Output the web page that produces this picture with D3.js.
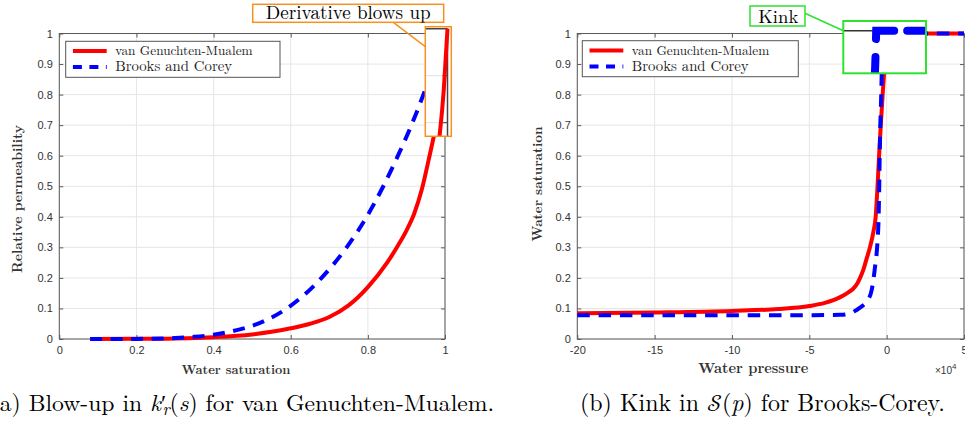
<!DOCTYPE html>
<html><head><meta charset="utf-8">
<script src="https://cdn.jsdelivr.net/npm/d3@7"></script>
<style>body{margin:0;background:#fff}svg{display:block}</style>
</head><body>
<svg id="c" width="965" height="433"></svg>
<script>
// ---------- data ----------
// (a) relative permeability vs water saturation
const vgS  = [0.08, 0.2, 0.3, 0.4, 0.5, 0.6, 0.65, 0.7, 0.75, 0.8, 0.85, 0.88, 0.9, 0.92, 0.94, 0.96, 0.975, 0.985, 0.993, 1.0];
const vgKr = [0, 0.0005, 0.002, 0.006, 0.015, 0.035, 0.05, 0.072, 0.11, 0.17, 0.25, 0.31, 0.355, 0.41, 0.49, 0.6, 0.69, 0.77, 0.87, 1.0];
const bcS  = [0.08, 0.2, 0.3, 0.35, 0.4, 0.45, 0.5, 0.55, 0.59, 0.68, 0.745, 0.797, 0.84, 0.878, 0.913, 0.944, 0.972, 1.0];
const bcKr = [0, 0.0003, 0.003, 0.007, 0.014, 0.026, 0.043, 0.07, 0.1, 0.2, 0.3, 0.4, 0.5, 0.6, 0.7, 0.8, 0.9, 1.0];
// (b) water saturation vs water pressure (x 10^4)
const vgP   = [-20, -15, -10, -7, -5, -4, -3, -2.5, -2.2, -1.9, -1.72, -1.5, -1.29, -1.08, -0.86, -0.71, -0.59, -0.49, -0.38, -0.26, -0.15, -0.06, 0, 5];
const vgSat = [0.084, 0.087, 0.092, 0.098, 0.108, 0.118, 0.137, 0.152, 0.163, 0.182, 0.2, 0.228, 0.264, 0.3, 0.35, 0.4, 0.5, 0.6, 0.7, 0.8, 0.88, 0.95, 1.0, 1.0];
const bcP   = [-20, -10, -5, -3, -2.6, -2.2, -1.94, -1.6, -1.29, -0.97, -0.75, -0.6, -0.52, -0.48, -0.45, -0.41, -0.35, -0.31, -0.28, 5];
const bcSat = [0.078, 0.078, 0.078, 0.079, 0.081, 0.087, 0.095, 0.107, 0.122, 0.16, 0.237, 0.313, 0.4, 0.5, 0.6, 0.7, 0.8, 0.9, 1.0, 1.0];

const yTicks  = [0, 0.1, 0.2, 0.3, 0.4, 0.5, 0.6, 0.7, 0.8, 0.9, 1];
const xTicksA = [0, 0.2, 0.4, 0.6, 0.8, 1];
const xTicksB = [-20, -15, -10, -5, 0, 5];
const seriesNames = ["van Genuchten-Mualem", "Brooks and Corey"];
const xLabelA = "Water saturation", yLabelA = "Relative permeability";
const xLabelB = "Water pressure",   yLabelB = "Water saturation";
const calloutA = "Derivative blows up", calloutB = "Kink";

// ---------- setup ----------
const svg = d3.select("#c");
const SANS = "'Liberation Sans', Arial, Helvetica, sans-serif";
const SERIF = "'Latin Modern Roman', 'Liberation Serif', serif";
const RED = "#ff0000", BLUE = "#0000ff", ORANGE = "#f7901e", GREEN = "#2ee22e";
const AX = "#5a5a5a", GRID = "#e6e6e6";
const zipA = (a, b) => a.map((v, i) => [v, b[i]]);

// scale the font size so that the text spans the target width
function fitSize(sel, target) {
  const fs = parseFloat(sel.style("font-size"));
  const w = sel.node().getComputedTextLength();
  sel.style("font-size", (fs * target / w).toFixed(2) + "px");
}

// is Latin Modern Math available (for the calligraphic S)?
const hasLMMath = (() => {
  const a = svg.append("text").style("font-family", "'Latin Modern Math', 'Liberation Serif'").style("font-size", "20px").text("Derivative");
  const b = svg.append("text").style("font-family", "'Liberation Serif'").style("font-size", "20px").text("Derivative");
  const r = Math.abs(a.node().getComputedTextLength() - b.node().getComputedTextLength()) > 0.5;
  a.remove(); b.remove();
  return r;
})();

function panel(x, y, xTicks) {
  const g = svg.append("g");
  const [x0, x1] = x.range();
  g.selectAll(null).data(xTicks).join("line")
    .attr("x1", d => x(d)).attr("x2", d => x(d)).attr("y1", y(0)).attr("y2", y(1))
    .attr("stroke", GRID);
  g.selectAll(null).data(yTicks).join("line")
    .attr("y1", d => y(d)).attr("y2", d => y(d)).attr("x1", x0).attr("x2", x1)
    .attr("stroke", GRID);
  const fmt = d => String(+(+d).toFixed(2));
  const ax = (axis, tr) => {
    const a = g.append("g").attr("transform", tr).call(axis);
    a.select(".domain").remove();
    a.selectAll("line").attr("stroke", AX);
    a.selectAll("text").attr("fill", "#333").style("font-family", SANS).style("font-size", "11px");
    return a;
  };
  ax(d3.axisLeft(y).tickValues(yTicks).tickSize(-4).tickPadding(6.5).tickFormat(fmt), `translate(${x0},0)`);
  ax(d3.axisRight(y).tickValues(yTicks).tickSize(-4).tickFormat(""), `translate(${x1},0)`);
  ax(d3.axisBottom(x).tickValues(xTicks).tickSize(-4).tickPadding(7).tickFormat(fmt), `translate(0,${y(0)})`);
  ax(d3.axisTop(x).tickValues(xTicks).tickSize(-4).tickFormat(""), `translate(0,${y(1)})`);
  g.append("rect").attr("x", x0).attr("y", y(1)).attr("width", x1 - x0).attr("height", y(0) - y(1))
    .attr("fill", "none").attr("stroke", AX).attr("stroke-width", 1);
  return g;
}

function legend(g, bx, by, bw, bh) {
  g.append("rect").attr("x", bx).attr("y", by).attr("width", bw).attr("height", bh)
    .attr("fill", "#fff").attr("stroke", "#555").attr("stroke-width", 1);
  const rows = [{c: RED, dash: null}, {c: BLUE, dash: "9,7.5"}];
  rows.forEach((r, i) => {
    const yy = by + 9.8 + i * 16;
    const l = g.append("line").attr("x1", bx + 7.2).attr("x2", bx + 41).attr("y1", yy).attr("y2", yy)
      .attr("stroke", r.c).attr("stroke-width", 4);
    if (r.dash) l.attr("stroke-dasharray", r.dash);
    const t = g.append("text").attr("x", bx + 49.5).attr("y", yy + 4.3)
      .style("font-family", SERIF).style("font-size", "14px").attr("fill", "#222").text(seriesNames[i]);
    fitSize(t, i === 0 ? 137.5 : 117);
  });
}

function label(g, txt, cx, cy, rot, target) {
  const t = g.append("text").attr("text-anchor", "middle")
    .attr("transform", `translate(${cx},${cy}) rotate(${rot})`)
    .attr("dy", "0.36em")
    .style("font-family", SERIF).style("font-size", "14px").style("font-weight", "bold")
    .attr("fill", "#333").text(txt);
  fitSize(t, target);
  return t;
}

// ---------- panel (a) ----------
const xA = d3.scaleLinear().domain([0, 1]).range([59.3, 445]);
const yA = d3.scaleLinear().domain([0, 1]).range([339, 33.5]);
const gA = panel(xA, yA, xTicksA);
const lineA = d3.line().x(d => xA(d[0])).y(d => yA(d[1])).curve(d3.curveMonotoneX);
gA.append("path").attr("d", lineA(zipA(vgS, vgKr))).attr("fill", "none").attr("stroke", RED).attr("stroke-width", 4);
gA.append("path").attr("d", lineA(zipA(bcS, bcKr))).attr("fill", "none").attr("stroke", BLUE).attr("stroke-width", 4)
  .attr("stroke-dasharray", "12,8.5");
legend(gA, 65.7, 41.3, 214.3, 36);
label(gA, xLabelA, 236, 369, 0, 109);
label(gA, yLabelA, 17.5, 199, -90, 148);

// inset (magnified view of the blow-up)
const inA = {x: 425.3, y: 26.7, w: 26, h: 109.6};
const xiA = d3.scaleLinear().domain([0.985, 1]).range([439.5, 447.5]);
const yiA = d3.scaleLinear().domain([0.8, 1]).range([122.7, 28.7]);
svg.append("defs").append("clipPath").attr("id", "clipA").append("rect")
  .attr("x", inA.x).attr("y", inA.y).attr("width", inA.w).attr("height", inA.h);
const gi = svg.append("g");
gi.append("rect").attr("x", inA.x).attr("y", inA.y).attr("width", inA.w).attr("height", inA.h).attr("fill", "#fff");
const gic = gi.append("g").attr("clip-path", "url(#clipA)");
[0.9, 0.8].forEach(v => {
  gic.append("line").attr("x1", inA.x).attr("x2", xiA(1)).attr("y1", yiA(v)).attr("y2", yiA(v)).attr("stroke", GRID).attr("stroke-width", 1.3);
  gic.append("line").attr("x1", xiA(1) - 5).attr("x2", xiA(1)).attr("y1", yiA(v)).attr("y2", yiA(v)).attr("stroke", AX).attr("stroke-width", 1.3);
});
gic.append("line").attr("x1", inA.x).attr("x2", xiA(1)).attr("y1", yiA(1)).attr("y2", yiA(1)).attr("stroke", "#444").attr("stroke-width", 1.5);
gic.append("line").attr("x1", xiA(1)).attr("x2", xiA(1)).attr("y1", yiA(1)).attr("y2", inA.y + inA.h).attr("stroke", "#444").attr("stroke-width", 1.5);
const lineIA = d3.line().x(d => xiA(d[0])).y(d => yiA(d[1])).curve(d3.curveMonotoneX);
gic.append("path").attr("d", lineIA(zipA(vgS, vgKr).filter(d => d[0] >= 0.96)))
  .attr("fill", "none").attr("stroke", RED).attr("stroke-width", 4);
gi.append("rect").attr("x", inA.x).attr("y", inA.y).attr("width", inA.w).attr("height", inA.h)
  .attr("fill", "none").attr("stroke", ORANGE).attr("stroke-width", 1.5);

// callout (a)
svg.append("line").attr("x1", 393.3).attr("y1", 22.3).attr("x2", inA.x).attr("y2", 46.7).attr("stroke", ORANGE).attr("stroke-width", 1.5);
svg.append("rect").attr("x", 252.7).attr("y", 4.3).attr("width", 191).attr("height", 18)
  .attr("fill", "#fff").attr("stroke", ORANGE).attr("stroke-width", 1.5);
const tA = svg.append("text").attr("x", 348.2).attr("y", 19.3).attr("text-anchor", "middle")
  .style("font-family", SERIF).style("font-size", "19px").attr("fill", "#000").text(calloutA);
fitSize(tA, 165);

// ---------- panel (b) ----------
const xB = d3.scaleLinear().domain([-20, 5]).range([577.3, 964]);
const yB = d3.scaleLinear().domain([0, 1]).range([339, 33.5]);
const gB = panel(xB, yB, xTicksB);
const lineB = d3.line().x(d => xB(d[0])).y(d => yB(d[1])).curve(d3.curveMonotoneX);
gB.append("path").attr("d", lineB(zipA(vgP, vgSat))).attr("fill", "none").attr("stroke", RED).attr("stroke-width", 4);
gB.append("path").attr("d", lineB(zipA(bcP, bcSat))).attr("fill", "none").attr("stroke", BLUE).attr("stroke-width", 4)
  .attr("stroke-dasharray", "12.5,8.8");
legend(gB, 582.3, 40.7, 216, 36);
label(gB, xLabelB, 753.3, 368, 0, 110);
label(gB, yLabelB, 537, 184, -90, 115);
const ex = gB.append("text").attr("x", 935).attr("y", 373.5)
  .style("font-family", SANS).style("font-size", "10px").attr("fill", "#333");
ex.append("tspan").text("\u00d710");
ex.append("tspan").attr("dy", -5).style("font-size", "8px").text("4");

// inset (magnified view of the kink)
const inB = {x: 843.3, y: 21, w: 82.7, h: 52.3};
const xiB = d3.scaleLinear().domain([-0.28, 1]).range([876.2, 914.6]);
const yiB = d3.scaleLinear().domain([0.8, 1]).range([95.3, 30.7]);
svg.select("defs").append("clipPath").attr("id", "clipB").append("rect")
  .attr("x", inB.x).attr("y", inB.y).attr("width", inB.w).attr("height", inB.h);
const gk = svg.append("g");
gk.append("rect").attr("x", inB.x).attr("y", inB.y).attr("width", inB.w).attr("height", inB.h).attr("fill", "#fff");
const gkc = gk.append("g").attr("clip-path", "url(#clipB)");
gkc.append("line").attr("x1", inB.x).attr("x2", xiB(-0.28)).attr("y1", yiB(1)).attr("y2", yiB(1))
  .attr("stroke", "#333").attr("stroke-width", 1.6);
const lineIB = d3.line().x(d => xiB(d[0])).y(d => yiB(d[1]));
const kp = gkc.append("path").attr("d", lineIB(zipA(bcP, bcSat).filter(d => d[1] >= 0.7)))
  .attr("fill", "none").attr("stroke", BLUE).attr("stroke-width", 8).attr("stroke-linecap", "round");
{
  const node = kp.node();
  let lo = 0, hi = node.getTotalLength();
  for (let k = 0; k < 40; k++) { const m = (lo + hi) / 2; if (node.getPointAtLength(m).y > 77) lo = m; else hi = m; }
  kp.attr("stroke-dasharray", `0,${lo.toFixed(2)},20,18,26.3,13,300,1000`);
}
gk.append("rect").attr("x", inB.x).attr("y", inB.y).attr("width", inB.w).attr("height", inB.h)
  .attr("fill", "none").attr("stroke", GREEN).attr("stroke-width", 2);

// callout (b)
svg.append("line").attr("x1", 805).attr("y1", 13.3).attr("x2", inB.x).attr("y2", 30.7).attr("stroke", GREEN).attr("stroke-width", 1.5);
svg.append("rect").attr("x", 750).attr("y", 6).attr("width", 55).attr("height", 20)
  .attr("fill", "#fff").attr("stroke", GREEN).attr("stroke-width", 1.5);
const tB = svg.append("text").attr("x", 778.3).attr("y", 23).attr("text-anchor", "middle")
  .style("font-family", SERIF).style("font-size", "19px").attr("fill", "#000").text(calloutB);
fitSize(tB, 40);

// ---------- captions ----------
function caption(x, y, parts, target) {
  const t = svg.append("text").attr("x", x).attr("y", y)
    .style("font-family", SERIF).style("font-size", "21px").attr("fill", "#000");
  parts.forEach(p => {
    const s = t.append("tspan").text(p.t);
    if (p.i) s.style("font-style", "italic");
    if (p.f) s.style("font-family", p.f);
    if (p.dy) s.attr("dy", p.dy);
    if (p.dx) s.attr("dx", p.dx);
    if (p.fs) s.style("font-size", p.fs);
  });
  fitSize(t, target);
}
caption(-9.5, 411, [
  {t: "(a) Blow-up in "}, {t: "k", i: true}, {t: "\u2032"},
  {t: "r", i: true, dy: "0.25em", dx: "-0.22em", fs: "0.72em"}, {t: "(", dy: "-0.18em"}, {t: "s", i: true},
  {t: ") for van Genuchten-Mualem."}
], 507.5);
caption(580, 411, [
  {t: "(b) Kink in "},
  hasLMMath ? {t: "\u{1D4AE}", f: "'Latin Modern Math'"} : {t: "S", i: true},
  {t: "("}, {t: "p", i: true}, {t: ") for Brooks-Corey."}
], 365);
</script>
</body></html>
